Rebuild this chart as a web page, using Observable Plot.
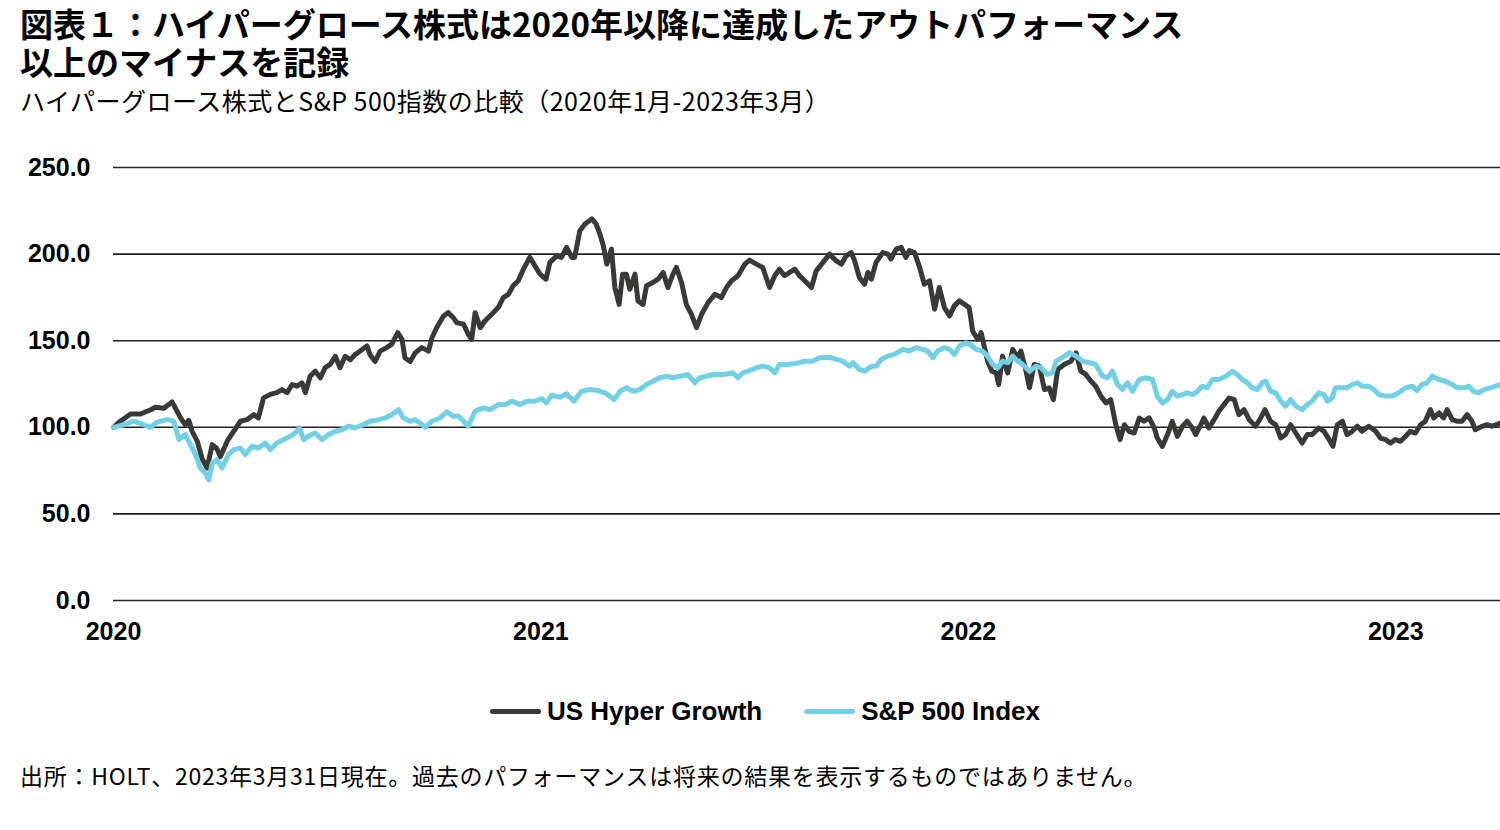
<!DOCTYPE html>
<html lang="ja">
<head>
<meta charset="utf-8">
<script src="https://cdn.jsdelivr.net/npm/d3@7"></script>
<script src="https://cdn.jsdelivr.net/npm/@observablehq/plot@0.6"></script>
<style>
  html, body { margin: 0; padding: 0; background: #fff; }
  body { position: relative; width: 1500px; height: 830px; overflow: hidden; font-family: "Noto Sans CJK JP", "Noto Sans", sans-serif; color: #000; }
  #title { position: absolute; left: 20px; top: 4px; font-size: 33px; line-height: 38px; font-weight: 700; white-space: pre; }
  #subtitle { position: absolute; left: 20px; top: 85px; font-size: 25px; line-height: 30px; letter-spacing: 0.5px; font-weight: 400; white-space: nowrap; }
  #chart { position: absolute; left: 0; top: 140px; }
  #legend { position: absolute; left: 490px; top: 694px; display: flex; align-items: center; font-family: "Liberation Sans", Arial, sans-serif; font-weight: 700; font-size: 26px; line-height: 34px; }
  #legend .item { display: flex; align-items: center; margin-right: 42px; }
  #legend .sw { width: 51px; height: 5px; border-radius: 3px; margin-right: 6px; }
  #caption { position: absolute; left: 20px; top: 760px; font-size: 23px; line-height: 30px; letter-spacing: 0.75px; white-space: nowrap; }
</style>
</head>
<body>
<div id="title"></div>
<div id="subtitle"></div>
<div id="chart"></div>
<div id="legend"></div>
<div id="caption"></div>
<script>
// ---- texts ----
const titleLines = ["図表１：ハイパーグロース株式は2020年以降に達成したアウトパフォーマンス", "以上のマイナスを記録"];
const subtitle = "ハイパーグロース株式とS&P 500指数の比較（2020年1月-2023年3月）";
const caption = "出所：HOLT、2023年3月31日現在。過去のパフォーマンスは将来の結果を表示するものではありません。";
const seriesNames = ["US Hyper Growth", "S&P 500 Index"];
const seriesColors = ["#393a38", "#72d0e5"];

// ---- ticks ----
const yTicks = [0, 50, 100, 150, 200, 250];
const xTicks = [2020, 2021, 2022, 2023];

// ---- US Hyper Growth (decimal year, index value) ----
const hyperT = [
  2020.000,2020.016,2020.040,2020.063,2020.086,2020.098,2020.118,2020.137,2020.157,2020.168,
  2020.176,2020.184,2020.196,2020.207,2020.219,2020.231,2020.241,2020.250,2020.266,2020.281,
  2020.297,2020.312,2020.328,2020.339,2020.351,2020.367,2020.382,2020.394,2020.406,2020.418,
  2020.429,2020.441,2020.449,2020.460,2020.472,2020.484,2020.495,2020.507,2020.519,2020.530,
  2020.542,2020.554,2020.565,2020.577,2020.593,2020.600,2020.612,2020.624,2020.639,2020.651,
  2020.665,2020.675,2020.682,2020.694,2020.706,2020.721,2020.737,2020.745,2020.756,2020.772,
  2020.783,2020.795,
  2020.803,2020.819,2020.830,2020.838,2020.846,2020.858,2020.869,2020.885,2020.900,2020.912,
  2020.924,2020.935,2020.947,2020.959,2020.974,2020.986,2020.998,2021.012,2021.021,2021.037,
  2021.048,2021.060,2021.072,2021.079,2021.091,2021.103,2021.119,2021.129,2021.138,2021.146,
  2021.154,2021.165,2021.173,2021.183,2021.191,2021.200,2021.208,2021.220,2021.227,2021.239,
  2021.247,2021.262,2021.274,2021.286,2021.297,2021.309,2021.317,2021.329,2021.340,2021.352,
  2021.364,2021.376,2021.391,2021.407,2021.422,2021.434,2021.446,2021.461,2021.477,2021.488,
  2021.504,2021.519,2021.535,2021.547,2021.558,2021.570,2021.582,2021.594,2021.605,2021.617,
  2021.633,2021.644,2021.660,2021.675,2021.691,2021.703,2021.714,2021.726,2021.734,2021.745,
  2021.757,2021.765,2021.773,2021.784,2021.800,2021.812,2021.819,2021.831,2021.843,2021.854,
  2021.862,2021.874,2021.886,2021.897,2021.909,2021.921,2021.932,2021.944,2021.956,2021.967,
  2021.979,2021.991,2022.002,2022.010,2022.022,2022.030,2022.037,2022.045,2022.055,2022.065,
  2022.071,2022.080,2022.092,2022.104,2022.115,2022.123,2022.135,2022.143,2022.154,2022.166,
  2022.178,2022.189,2022.199,2022.209,2022.224,2022.240,2022.252,2022.263,2022.275,2022.287,
  2022.298,2022.310,2022.322,2022.333,2022.345,2022.355,2022.365,2022.376,2022.388,2022.400,
  2022.411,
  2022.423,2022.435,2022.442,2022.454,2022.466,2022.477,2022.489,2022.501,2022.512,2022.524,
  2022.532,2022.544,2022.551,2022.563,2022.575,2022.586,2022.598,2022.610,2022.622,2022.633,
  2022.645,2022.657,2022.672,2022.684,2022.694,2022.707,2022.719,2022.731,2022.742,2022.754,
  2022.766,2022.781,2022.793,2022.804,2022.820,2022.832,2022.844,2022.853,2022.863,2022.875,
  2022.886,2022.898,2022.910,2022.921,2022.937,2022.953,2022.964,2022.976,2022.988,2022.999,
  2023.011,2023.023,2023.034,2023.046,2023.058,2023.069,2023.081,2023.089,2023.101,2023.112,
  2023.120,2023.132,2023.143,2023.155,2023.167,2023.178,2023.186,2023.202,2023.213,2023.225,
  2023.245
];
const hyperV = [
  100,103.5,107.7,107.7,110,111.6,111,114.7,105.4,101.5,
  104,97.7,92,82,76.5,90,88,83,92,97.7,
  103.5,104.4,107.3,105.4,117,119,120,121.8,120,124.7,
  123.7,125.7,120,129.5,132.4,128.6,134.4,136.3,141,134.4,
  141,139,142,144,147,142,138,144,146,148,
  154.6,150.8,140,138,143,146,144,151.7,157.5,164.3,
  166.2,163.3,
  160.4,159.5,153.7,150.8,166.2,157.5,161.4,165.3,169.1,174.9,
  176.8,181.7,184.6,191.3,198.1,193.3,188.4,185.5,195.2,199,
  198.1,203.9,198.1,198.1,213.5,217.4,220.3,217.4,211.6,204.8,
  194.2,202.9,180.7,171,188.4,188.4,179.7,188.4,173,171,
  181.7,183.6,185.5,189.4,180.7,188.4,192.3,183.6,171,165.3,
  157.5,165.3,172,176.8,174.9,180.7,184.6,187.5,194.2,196.5,
  194.2,192.3,180.7,187.5,191.3,187.5,189.4,191.3,187.5,184.6,
  180.7,190.3,195.2,200,196.1,194.2,199,200.9,196.1,186.5,
  182.6,189.4,185.5,195.2,200.9,200,197.1,202.9,203.9,198.1,
  202,200.9,192.3,182.6,184.6,168.2,180.7,169.1,164.3,170.1,
  173,171,169.1,155.6,150.8,154.6,146.9,138.2,132.4,131.4,
  124.7,141.1,131.4,145,140.2,144,132.4,122.8,136.3,135.3,
  121.8,122.8,116,133.4,136.3,138.2,143,132.4,130.5,126.6,
  123.7,118,114.1,116,101.5,92.9,101.5,97.7,96.7,105.4,
  103.5,
  105.4,99.6,93.8,89,95.8,103.5,94.8,100.6,103.5,99.6,
  95.8,101.5,105.4,99.6,104.4,109.3,113.1,116.9,116,107.3,
  110.2,104.4,100.6,105.4,110.2,103.5,101.5,93.8,95.8,101.5,
  96.7,90.9,95.8,95.8,99.6,97.7,92.9,89,101.5,103.5,
  95.8,97.7,100.6,97.7,100.6,97.7,93.8,92.9,90.9,92.9,
  91.9,94.8,97.7,96.7,101.5,103.5,110.2,105.4,108.3,105.4,
  110.2,104.4,103.5,103.5,107.3,103.5,98.6,100.6,101.5,100.6,
  102.5
];

// ---- S&P 500 Index (decimal year, index value) ----
const spT = [
  2020.000,2020.024,2020.047,2020.071,2020.086,2020.102,2020.126,2020.141,2020.153,2020.168,
  2020.180,2020.192,2020.203,2020.215,2020.223,2020.231,2020.242,2020.254,2020.269,2020.281,
  2020.297,2020.308,2020.324,2020.339,2020.355,2020.367,2020.382,2020.398,2020.414,2020.425,
  2020.435,2020.445,2020.456,2020.472,2020.488,2020.503,2020.519,2020.534,2020.550,2020.565,
  2020.585,2020.600,2020.620,2020.636,2020.651,2020.667,2020.678,2020.694,2020.706,2020.717,
  2020.729,2020.745,2020.764,2020.780,2020.795,
  2020.807,2020.819,2020.830,2020.846,2020.865,2020.881,2020.900,2020.916,2020.932,2020.951,
  2020.967,2020.986,2021.002,2021.013,2021.025,2021.044,2021.060,2021.077,2021.095,2021.115,
  2021.134,2021.150,2021.161,2021.171,2021.185,2021.200,2021.216,2021.231,2021.247,2021.262,
  2021.278,2021.294,2021.309,2021.325,2021.344,2021.360,2021.372,2021.387,2021.403,2021.422,
  2021.438,2021.449,2021.461,2021.473,2021.488,2021.504,2021.519,2021.535,2021.547,2021.558,
  2021.574,2021.590,2021.605,2021.617,
  2021.636,2021.652,2021.675,2021.691,2021.706,2021.722,2021.730,2021.745,2021.757,2021.773,
  2021.784,2021.796,2021.812,2021.827,2021.847,2021.862,2021.878,2021.893,2021.905,2021.917,
  2021.928,2021.944,2021.956,2021.967,2021.979,2021.995,2022.006,2022.018,2022.033,2022.045,
  2022.057,2022.069,2022.080,2022.092,2022.104,2022.115,2022.127,2022.143,2022.158,2022.170,
  2022.185,2022.197,2022.205,2022.220,2022.236,2022.252,2022.267,2022.283,2022.298,2022.314,
  2022.326,2022.337,2022.349,2022.361,2022.372,2022.384,2022.400,2022.415,2022.431,
  2022.442,2022.454,2022.466,2022.477,2022.489,2022.501,2022.512,2022.524,2022.536,2022.547,
  2022.559,2022.571,2022.586,2022.602,2022.618,2022.629,2022.641,2022.653,2022.664,2022.676,
  2022.688,2022.696,2022.707,2022.719,2022.731,2022.742,2022.754,2022.766,2022.781,2022.793,
  2022.804,2022.820,2022.832,2022.840,2022.851,2022.859,2022.875,2022.886,2022.898,2022.910,
  2022.921,2022.937,2022.949,2022.960,2022.976,2022.991,2023.007,2023.023,2023.038,2023.050,
  2023.061,2023.073,2023.085,2023.101,2023.116,2023.132,2023.143,2023.159,2023.171,2023.182,
  2023.194,2023.206,2023.221,2023.245
];
const spV = [
  100,101.5,103.5,101.5,100,103,104.4,103.5,92.9,95.8,
  90,84.2,76.5,73.6,69.7,79.3,81.3,76.5,84.2,87,
  88,84.2,89,88,90.9,87,90.9,92.9,94.8,96.7,
  99.6,92.9,94.8,96.7,92.9,95.8,97.7,98.6,100.6,99.6,
  101.5,103.5,104.4,105.4,107.3,110.2,105.4,103.5,104.4,102.5,
  100,103.5,105.4,108.9,106.4,
  106.4,103.5,100.6,109.3,111.2,110.2,113.1,113.1,115.1,113.1,
  115.1,115.1,116.6,114.1,118.5,117.4,119.3,115.1,120.8,121.8,
  121.2,119.9,118,116,120.8,122.8,120.8,121.8,124.7,126.6,
  128.6,129.5,128.6,129.5,130.5,125.7,128.6,129.5,130.5,130.5,
  130.9,131.5,128.6,131.5,132.8,134.4,135.3,134.4,131.5,136.3,
  136.3,136.7,137.3,138.2,
  138.2,140.2,140.5,139.2,138.2,135.3,137.3,133.4,132.4,135.3,
  135.3,139.2,141.1,142.1,145,144,146,145,144,140.2,
  144,146,145,142.1,146.9,148.8,147.5,145,144,141.1,
  136.3,134.4,138.2,137.3,141.1,138.2,136.3,132.4,135.3,134.4,
  130.5,131.5,138.2,140.2,143,141.1,138.2,137.3,136.3,129.5,
  128.6,132.4,124.7,121.8,125.7,120.8,127.6,128.6,127.6,
  118,114.1,116,120.8,118,118.9,119.9,118.9,120.8,123.7,
  122.8,127.6,127.6,129.5,132.4,130.5,127.6,125.7,122.8,121.8,
  125.7,126.6,120.8,119.9,115.1,112.2,116,112.2,110.2,113.1,
  115.1,119.9,118.9,115.1,117,122.8,122.8,122.8,124.7,125.7,
  123.7,123.7,121.8,118.9,118,118,119.9,122.8,123.7,121.2,
  124.7,125.7,129.5,127.6,126.6,124.7,122.8,122.8,123.7,120.8,
  119.9,121.8,122.8,124.7
];

// ---- build ----
document.getElementById("title").textContent = titleLines.join("\n");
document.getElementById("subtitle").textContent = subtitle;
document.getElementById("caption").textContent = caption;
document.getElementById("legend").innerHTML = seriesNames.map((n, i) =>
  `<div class="item"><div class="sw" style="background:${seriesColors[i]}"></div><span>${n}</span></div>`).join("");

const toRows = (T, V, name) => d3.range(Math.min(T.length, V.length)).map(i => ({t: T[i], v: V[i], series: name}));
const hyper = toRows(hyperT, hyperV, seriesNames[0]);
const sp = toRows(spT, spV, seriesNames[1]);

const chart = Plot.plot({
  width: 1500,
  height: 510,
  marginLeft: 113,
  marginRight: 0,
  marginTop: 27,
  marginBottom: 50,
  x: {type: "linear", domain: [2020, 2023.245]},
  y: {domain: [0, 250]},
  style: {fontFamily: "'Liberation Sans', Arial, sans-serif", fontSize: "25px", fontWeight: "bold", color: "#000", background: "#fff", overflow: "visible"},
  marks: [
    Plot.ruleY(yTicks, {stroke: "#222", strokeWidth: 1.6}),
    Plot.line(hyper, {x: "t", y: "v", stroke: seriesColors[0], strokeWidth: 5, strokeLinejoin: "round", strokeLinecap: "round"}),
    Plot.line(sp, {x: "t", y: "v", stroke: seriesColors[1], strokeWidth: 5, strokeLinejoin: "round", strokeLinecap: "round"}),
    Plot.axisY(yTicks, {tickSize: 0, tickPadding: 23, tickFormat: d => d.toFixed(1), label: null, fill: "#000"}),
    Plot.axisX(xTicks, {tickSize: 0, tickPadding: 22, tickFormat: d => String(d), label: null, fill: "#000"})
  ]
});
document.getElementById("chart").appendChild(chart);
</script>
</body>
</html>
